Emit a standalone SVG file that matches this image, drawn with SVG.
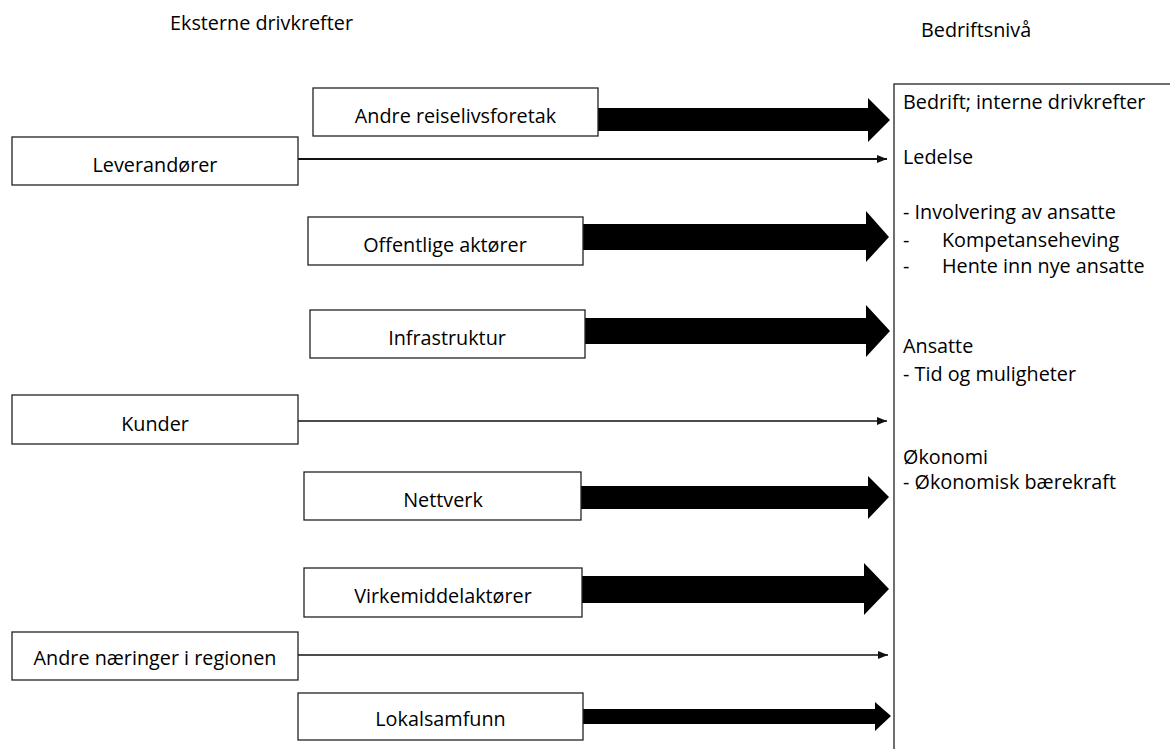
<svg xmlns="http://www.w3.org/2000/svg" width="1170" height="749" viewBox="0 0 1170 749">
<defs>
<style>
text{font-family:"Open Sans","Liberation Sans",sans-serif;font-size:19.8px;fill:#000;}
.box{fill:#fff;stroke:#222;stroke-width:1.3;}
.lbl{text-anchor:middle;}
.thin{stroke:#111;fill:none;}
.fat{fill:#000;}
</style>
<marker id="ah" viewBox="0 0 10 8" refX="10" refY="4" markerUnits="userSpaceOnUse" markerWidth="10" markerHeight="8" orient="auto">
<path d="M0,0 L10,4 L0,8 Z" fill="#111"/>
</marker>
</defs>
<rect width="1170" height="749" fill="#fff"/>
<text x="170" y="30">Eksterne drivkrefter</text>
<text x="921" y="37">Bedriftsnivå</text>

<g id="connectors">
<polygon class="fat" points="598,108 868,108 868,98 890,120 868,142 868,131 598,131"/>
<line class="thin" x1="298" y1="159" x2="887" y2="159" stroke-width="2" marker-end="url(#ah)"/>
<polygon class="fat" points="583,224 866,224 866,211 889,237 866,262 866,250 583,250"/>
<polygon class="fat" points="585,318 866,318 866,305 890,331 866,357 866,344 585,344"/>
<line class="thin" x1="298" y1="421" x2="887" y2="421" stroke-width="1.3" marker-end="url(#ah)"/>
<polygon class="fat" points="581,486 868,486 868,476 889,497 868,519 868,509 581,509"/>
<polygon class="fat" points="582,576 864,576 864,563 889,589 864,615 864,603 582,603"/>
<line class="thin" x1="298" y1="655" x2="888" y2="655" stroke-width="1.5" marker-end="url(#ah)"/>
<polygon class="fat" points="583,709 875,709 875,702 891,716 875,731 875,724 583,724"/>
</g>

<g id="andre-reiselivsforetak">
<rect class="box" x="313" y="88" width="285" height="48"/>
<text class="lbl" x="455.5" y="123">Andre reiselivsforetak</text>
</g>
<g id="leverandorer">
<rect class="box" x="12" y="137" width="286" height="48"/>
<text class="lbl" x="155" y="172">Leverandører</text>
</g>
<g id="offentlige-aktorer">
<rect class="box" x="308" y="217" width="275" height="48"/>
<text class="lbl" x="445" y="252">Offentlige aktører</text>
</g>
<g id="infrastruktur">
<rect class="box" x="310" y="310" width="275" height="48"/>
<text class="lbl" x="447" y="345">Infrastruktur</text>
</g>
<g id="kunder">
<rect class="box" x="12" y="395" width="286" height="49"/>
<text class="lbl" x="155" y="431">Kunder</text>
</g>
<g id="nettverk">
<rect class="box" x="304" y="472" width="277" height="48"/>
<text class="lbl" x="443" y="507">Nettverk</text>
</g>
<g id="virkemiddelaktorer">
<rect class="box" x="304" y="568" width="278" height="49"/>
<text class="lbl" x="443" y="603">Virkemiddelaktører</text>
</g>
<g id="andre-naeringer">
<rect class="box" x="12" y="632" width="286" height="48"/>
<text class="lbl" x="155" y="665">Andre næringer i regionen</text>
</g>
<g id="lokalsamfunn">
<rect class="box" x="298" y="693" width="285" height="47"/>
<text class="lbl" x="440.5" y="726">Lokalsamfunn</text>
</g>

<g id="bedrift">
<rect class="box" x="894" y="84" width="300" height="700" stroke="#333"/>
<text x="903" y="109">Bedrift; interne drivkrefter</text>
<text x="903" y="164">Ledelse</text>
<text x="903" y="219">- Involvering av ansatte</text>
<text y="247"><tspan x="903">-</tspan><tspan x="942">Kompetanseheving</tspan></text>
<text y="273"><tspan x="903">-</tspan><tspan x="942">Hente inn nye ansatte</tspan></text>
<text x="903" y="353">Ansatte</text>
<text x="903" y="381">- Tid og muligheter</text>
<text x="903" y="464">Økonomi</text>
<text x="903" y="489">- Økonomisk bærekraft</text>
</g>
</svg>
